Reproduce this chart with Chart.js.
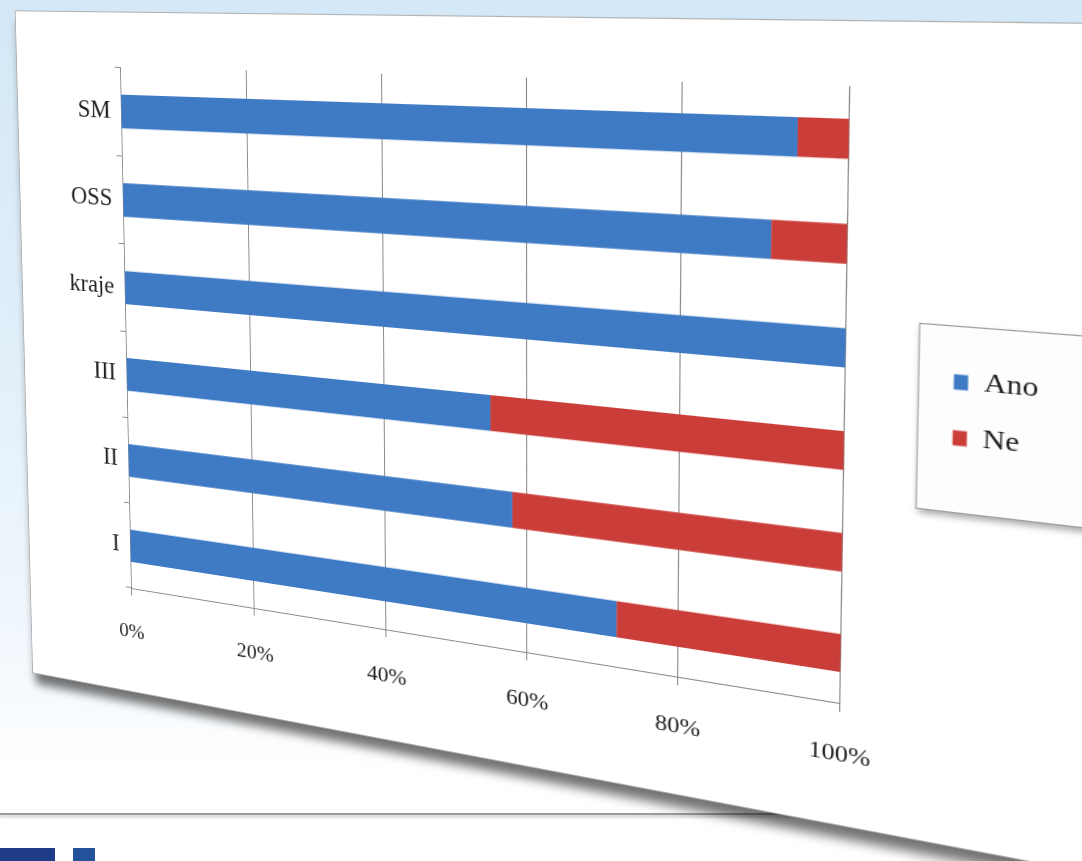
<!DOCTYPE html>
<html>
<head>
<meta charset="utf-8">
<title>Ano / Ne</title>
<script src="https://cdn.jsdelivr.net/npm/chart.js@4.4.0/dist/chart.umd.min.js"></script>
<style>
    html, body { margin: 0; padding: 0; }
    body {
        width: 1082px; height: 861px; overflow: hidden; position: relative;
        background: linear-gradient(180deg, #d4e8f7 0%, #e3f0fa 45%, #f2f8fd 75%, #ffffff 90%);
    }
    #lower { position: absolute; left: 0; top: 815px; width: 1082px; height: 46px; background: #fff; }
    #slideLine { position: absolute; left: 0; top: 813px; width: 1082px; height: 2px; background: #9c9c9c; box-shadow: 0 2px 3px rgba(0,0,0,0.25); }
    .sq { position: absolute; top: 848px; height: 13px; background: #1f3c88; }
    #card {
        position: absolute; left: 0; top: 0; width: 1080px; height: 708px;
        background: #fff; outline: 1px solid #b0b0b0;
        box-shadow: 3px 12px 10px rgba(0,0,0,0.55);
        transform-origin: 0 0;
    }
    #card canvas { position: absolute; left: 0; top: 0; }
</style>
</head>
<body>
<div id="lower"></div>
<div id="slideLine"></div>
<div class="sq" style="left:0; width:55px;"></div>
<div class="sq" style="left:73px; width:22px; background:#24539c;"></div>
<div id="card"><canvas id="chart" width="1080" height="708"></canvas></div>

<script>
const categories = ['I', 'II', 'III', 'kraje', 'OSS', 'SM'];
const anoValues = [72, 58, 55, 100, 91, 94];
const neValues = [28, 42, 45, 0, 9, 6];
const xTicks = [0, 20, 40, 60, 80, 100];
const seriesNames = ['Ano', 'Ne'];
const seriesColors = ['#3f7ac4', '#cb3d38'];

// where the plot corners land in the photo: TL, TR, BR, BL
const plotCorners = [[120, 67], [850, 86], [840, 703], [131, 588]];

Chart.defaults.font.family = "'Liberation Serif', 'DejaVu Serif', serif";
Chart.defaults.color = '#1e1e1e';

// white framed box behind the legend, like the excel one
const legendFrame = {
    id: 'legendFrame',
    beforeDraw(chart) {
        const boxes = chart.legend && chart.legend.legendHitBoxes;
        if (!boxes || !boxes.length) return;
        const left = Math.min(...boxes.map(b => b.left)) - 28;
        const right = Math.max(...boxes.map(b => b.left + b.width)) + 44;
        const top = Math.min(...boxes.map(b => b.top)) - 36;
        const bottom = Math.max(...boxes.map(b => b.top + b.height)) + 52;
        const ctx = chart.ctx;
        ctx.save();
        ctx.shadowColor = 'rgba(0,0,0,0.35)';
        ctx.shadowBlur = 6;
        ctx.shadowOffsetX = 2;
        ctx.shadowOffsetY = 4;
        ctx.fillStyle = '#fdfdfd';
        ctx.fillRect(left, top, right - left, bottom - top);
        ctx.shadowColor = 'transparent';
        ctx.strokeStyle = '#9a9a9a';
        ctx.lineWidth = 1;
        ctx.strokeRect(left + 0.5, top + 0.5, right - left, bottom - top);
        ctx.restore();
    }
};

const ctx = document.getElementById('chart').getContext('2d');
const chart = new Chart(ctx, {
    type: 'bar',
    data: {
        labels: categories,
        datasets: [
            { label: seriesNames[0], data: anoValues, backgroundColor: seriesColors[0], borderWidth: 0 },
            { label: seriesNames[1], data: neValues, backgroundColor: seriesColors[1], borderWidth: 0 }
        ]
    },
    options: {
        indexAxis: 'y',
        responsive: false,
        animation: false,
        barPercentage: 0.38,
        categoryPercentage: 1,
        layout: { padding: { left: 30, top: 55, right: 105, bottom: 47 } },
        scales: {
            x: {
                stacked: true,
                min: 0,
                max: 100,
                afterBuildTicks: scale => { scale.ticks = xTicks.map(v => ({ value: v })); },
                afterFit: scale => { scale.height = 64; },
                grid: { color: '#8a8a8a', tickLength: 8 },
                border: { color: '#8a8a8a' },
                ticks: { padding: 26, font: { size: 22 }, callback: v => v + '%' }
            },
            y: {
                stacked: true,
                reverse: true,
                afterFit: scale => { scale.width = 90; },
                grid: { drawOnChartArea: false, tickLength: 6, color: '#8a8a8a' },
                border: { color: '#8a8a8a' },
                ticks: { padding: 6, font: { size: 26 } }
            },
            // empty axis that only keeps a gap between plot and legend
            spacer: {
                type: 'linear',
                position: 'right',
                grid: { display: false },
                border: { display: false },
                ticks: { display: false },
                afterFit: scale => { scale.width = 62; }
            }
        },
        plugins: {
            legend: {
                position: 'right',
                fullSize: false,
                labels: { boxWidth: 11, boxHeight: 13, padding: 24, font: { size: 24 }, color: '#1e1e1e' }
            },
            tooltip: { enabled: false }
        }
    },
    plugins: [legendFrame]
});

// solve a small linear system (gauss with pivoting)
function solve(A, b) {
    const n = b.length;
    for (let i = 0; i < n; i++) {
        let p = i;
        for (let r = i + 1; r < n; r++) if (Math.abs(A[r][i]) > Math.abs(A[p][i])) p = r;
        [A[i], A[p]] = [A[p], A[i]];
        [b[i], b[p]] = [b[p], b[i]];
        for (let r = i + 1; r < n; r++) {
            const f = A[r][i] / A[i][i];
            for (let c = i; c < n; c++) A[r][c] -= f * A[i][c];
            b[r] -= f * b[i];
        }
    }
    const x = new Array(n).fill(0);
    for (let i = n - 1; i >= 0; i--) {
        let s = b[i];
        for (let c = i + 1; c < n; c++) s -= A[i][c] * x[c];
        x[i] = s / A[i][i];
    }
    return x;
}

// tilt the whole card so the plot area sits where it does in the photo
function tiltCard() {
    const a = chart.chartArea;
    const src = [[a.left, a.top], [a.right, a.top], [a.right, a.bottom], [a.left, a.bottom]];
    const A = [], b = [];
    src.forEach(([x, y], i) => {
        const [u, v] = plotCorners[i];
        A.push([x, y, 1, 0, 0, 0, -u * x, -u * y]); b.push(u);
        A.push([0, 0, 0, x, y, 1, -v * x, -v * y]); b.push(v);
    });
    const h = solve(A, b);
    const m = [h[0], h[3], 0, h[6], h[1], h[4], 0, h[7], 0, 0, 1, 0, h[2], h[5], 0, 1];
    document.getElementById('card').style.transform = 'matrix3d(' + m.join(',') + ')';
}
tiltCard();
</script>
</body>
</html>
